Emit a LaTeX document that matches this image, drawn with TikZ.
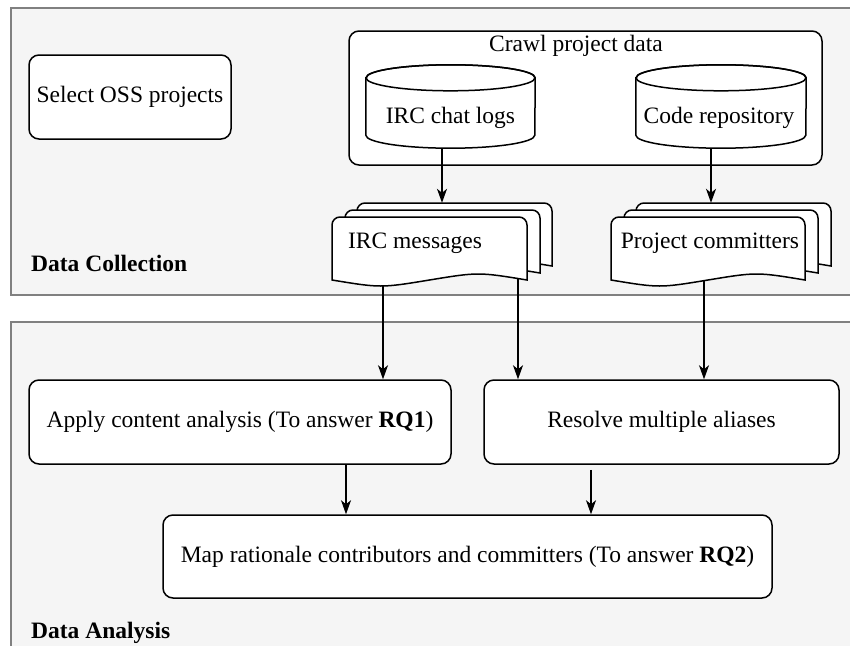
\documentclass[tikz,border=0pt]{standalone}
\usepackage{fontspec}
\setmainfont{Liberation Serif}
\usetikzlibrary{arrows.meta,calc}
\definecolor{panelfill}{HTML}{F5F5F5}
\definecolor{panelline}{HTML}{808080}
\newcommand\mdoc[5]{%
  \draw[fill=white, line width=1.5pt]
    (#1,#2+#4) -- (#1,#2+8) arc[start angle=180,end angle=270,radius=8]
    -- (#1+#3-8,#2) arc[start angle=270,end angle=360,radius=8]
    -- (#1+#3,#2+#4)
    .. controls (#1+0.75*#3,#2+#4-2*#5) .. (#1+0.5*#3,#2+#4)
    .. controls (#1+0.25*#3,#2+#4+2*#5) .. (#1,#2+#4) -- cycle;}
\newcommand\cyl[3]{% node, rx, ry
  \draw[fill=white, line width=1.5pt]
    ($(#1.north west)+(0,#3)$) -- ($(#1.south west)+(0,-#3)$)
    arc[start angle=180,end angle=0,x radius=#2,y radius=#3]
    -- ($(#1.north east)+(0,#3)$)
    arc[start angle=0,end angle=-180,x radius=#2,y radius=#3] -- cycle;
  \draw[line width=1.5pt] ($(#1.north)+(0,#3)$) ellipse[x radius=#2,y radius=#3];}
\begin{document}
\begin{tikzpicture}[x=1pt,y=-1pt,
  font=\fontsize{23.5}{28}\selectfont,
  panel/.style={draw=panelline, fill=panelfill, line width=1.5pt},
  box/.style={draw, fill=white, rounded corners=10pt, line width=1.5pt, inner sep=0pt},
  ghost/.style={draw=none, inner sep=0pt},
  lbl/.style={inner sep=0pt},
  bold/.style={inner sep=0pt, anchor=west, font=\fontsize{23.5}{28}\selectfont\bfseries},
  arr/.style={-{Stealth[length=14pt,width=10pt,inset=4pt]}, line width=1.3pt}]
\useasboundingbox (0,0) rectangle (850,645);
% panels
\draw[panel] (11,8) rectangle (870,295);
\draw[panel] (11,322) rectangle (870,670);
\node[bold] (dclabel) at (31,263) {Data Collection};
\node[bold] (dalabel) at (31,633) {Data Analysis};
% data collection
\node[box, minimum width=202pt, minimum height=84pt] (select) at (130,97) {Select OSS projects};
\node[box, minimum width=473pt, minimum height=134pt] (crawl) at (585.5,98) {};
\node[lbl] (crawltitle) at (576,46) {Crawl project data};
\node[ghost, minimum width=169pt, minimum height=83pt] (irccyl) at (450.5,106.5) {};
\node[ghost, minimum width=170pt, minimum height=83pt] (codecyl) at (721,106.5) {};
\cyl{irccyl}{84.5}{13}
\cyl{codecyl}{85}{13}
\node[lbl] (irclogs) at (450.5,118) {IRC chat logs};
\node[lbl] (coderepo) at (719,118) {Code repository};
% multi documents
\mdoc{357}{203}{195}{63}{4}
\mdoc{345}{210}{195}{63}{4}
\mdoc{332}{217}{195}{63}{4}
\mdoc{636}{203}{195}{63}{4}
\mdoc{624}{210}{194}{63}{4}
\mdoc{611}{217}{194}{63}{4}
\node[ghost, minimum width=220pt, minimum height=77pt] (ircdocs) at (442,241.5) {};
\node[ghost, minimum width=220pt, minimum height=77pt] (comdocs) at (721,241.5) {};
\node[lbl] (ircmsg) at (415,243) {IRC messages};
\node[lbl] (committers) at (710,243) {Project committers};
\draw[arr] ([xshift=-8.5pt]irccyl.south) -- ([xshift=-8.5pt]irccyl.south |- ircdocs.north);
\draw[arr] ([xshift=-10pt]codecyl.south) -- ([xshift=-10pt]codecyl.south |- comdocs.north);
% data analysis
\node[box, minimum width=422pt, minimum height=84pt] (apply) at (240,422) {Apply content analysis (To answer \textbf{RQ1})};
\node[box, minimum width=355pt, minimum height=84pt] (resolve) at (661.5,422) {Resolve multiple aliases};
\node[box, minimum width=609pt, minimum height=83pt] (map) at (467.5,556.5) {Map rationale contributors and committers (To answer \textbf{RQ2})};
\coordinate (ircout1) at (383,286);
\coordinate (ircout2) at (518,279);
\coordinate (comout) at (704,280);
\draw[arr] (ircout1) -- (ircout1 |- apply.north);
\draw[arr] (ircout2) -- (ircout2 |- resolve.north);
\draw[arr] (comout) -- (comout |- resolve.north);
\draw[arr] ([xshift=106pt]apply.south) -- ([xshift=106pt]apply.south |- map.north);
\draw[arr, shorten <=5pt] ([xshift=-70.5pt]resolve.south) -- ([xshift=-70.5pt]resolve.south |- map.north);
\end{tikzpicture}
\end{document}
